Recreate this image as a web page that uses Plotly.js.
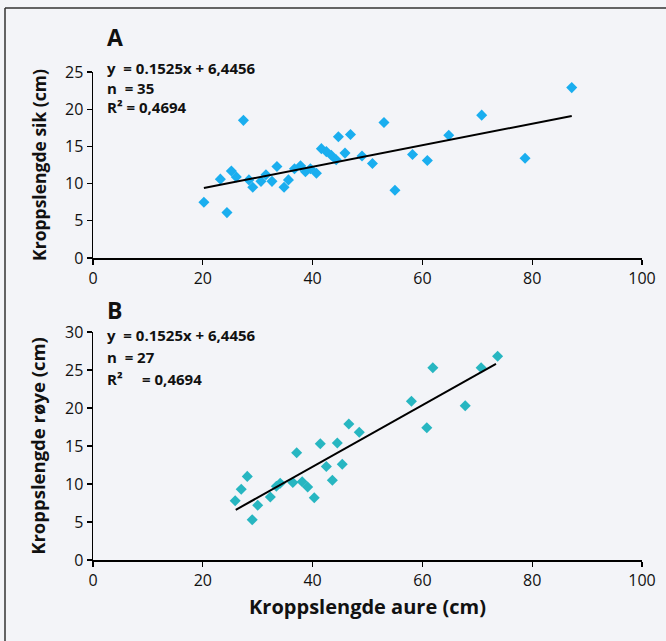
<!DOCTYPE html>
<html>
<head>
<meta charset="utf-8">
<script src="https://cdn.plot.ly/plotly-3.0.1.min.js"></script>
<style>
  html, body { margin: 0; padding: 0; background: #f3f4f8; }
  #chart { width: 666px; height: 641px; }
</style>
</head>
<body>
<div id="chart"></div>
<script>
// Panel A: sik vs aure
const sikX = [20.2, 24.4, 23.2, 25.2, 26.1, 27.4, 28.4, 29.1, 30.6, 31.5, 32.6, 33.5, 34.8, 35.6, 36.7, 37.8, 38.7, 39.6, 40.7, 41.6, 42.5, 43.4, 44.3, 44.7, 45.9, 46.9, 49.0, 50.9, 53.0, 55.0, 58.2, 60.9, 64.8, 70.8, 78.7, 87.2];
const sikY = [7.5, 6.1, 10.6, 11.7, 10.9, 18.5, 10.5, 9.5, 10.3, 11.2, 10.3, 12.3, 9.5, 10.5, 12.0, 12.4, 11.6, 12.0, 11.4, 14.7, 14.3, 13.8, 13.2, 16.3, 14.1, 16.6, 13.7, 12.7, 18.2, 9.1, 13.9, 13.1, 16.5, 19.2, 13.4, 22.9];
const trendAx = [20.2, 87.2];
const trendAy = [9.4, 19.1];

// Panel B: røye vs aure
const royeX = [25.9, 27.0, 28.1, 29.0, 30.0, 32.3, 33.4, 34.1, 36.4, 37.1, 38.1, 39.1, 40.3, 41.4, 42.5, 43.6, 44.5, 45.4, 46.6, 48.5, 58.0, 60.8, 61.9, 67.8, 70.7, 73.7];
const royeY = [7.8, 9.3, 11.0, 5.3, 7.2, 8.3, 9.7, 10.1, 10.2, 14.1, 10.3, 9.6, 8.2, 15.3, 12.3, 10.5, 15.4, 12.6, 17.9, 16.8, 20.9, 17.4, 25.3, 20.3, 25.3, 26.8];
const trendBx = [26.0, 73.4];
const trendBy = [6.6, 25.8];

const xTicks = [0, 20, 40, 60, 80, 100];
const yTicksA = [0, 5, 10, 15, 20, 25];
const yTicksB = [0, 5, 10, 15, 20, 25, 30];

const labelsA = ["y  = 0.1525x + 6,4456", "n  = 35", "R² = 0,4694"];
const labelsB = ["y  = 0.1525x + 6,4456", "n  = 27", "R²     = 0,4694"];

const W = 666, H = 641, ML = 93, MR = 24;
const PW = W - ML - MR;
const px = v => (v - ML) / PW;
const py = v => (H - v) / H;

const FONT = "Open Sans, Noto Sans, sans-serif";
const colA = "#1aaeef";
const colB = "#27b6c1";

const traces = [
  { x: sikX, y: sikY, xaxis: "x", yaxis: "y", type: "scatter", mode: "markers",
    marker: { symbol: "diamond", size: 8.5, color: colA }, hoverinfo: "x+y" },
  { x: trendAx, y: trendAy, xaxis: "x", yaxis: "y", type: "scatter", mode: "lines",
    line: { color: "#000", width: 2 } },
  { x: royeX, y: royeY, xaxis: "x2", yaxis: "y2", type: "scatter", mode: "markers",
    marker: { symbol: "diamond", size: 8.5, color: colB }, hoverinfo: "x+y" },
  { x: trendBx, y: trendBy, xaxis: "x2", yaxis: "y2", type: "scatter", mode: "lines",
    line: { color: "#000", width: 2 } }
];

const axisCommon = {
  showgrid: false, zeroline: false, showline: true, linecolor: "#000", linewidth: 1.5,
  ticks: "outside", ticklen: 5, tickwidth: 1.2, tickcolor: "#000",
  tickfont: { family: FONT, size: 16, color: "#111" }
};

const layout = {
  width: W, height: H,
  margin: { l: ML, r: MR, t: 0, b: 0 },
  paper_bgcolor: "#f3f4f8", plot_bgcolor: "#f3f4f8",
  showlegend: false,
  font: { family: FONT, color: "#111" },
  xaxis: Object.assign({}, axisCommon, {
    range: [0, 100], tickvals: xTicks, anchor: "y", domain: [0, 1]
  }),
  yaxis: Object.assign({}, axisCommon, {
    range: [0, 25], tickvals: yTicksA, anchor: "x", domain: [py(258), py(72)],
    title: { text: "<b>Kroppslengde sik (cm)</b>", font: { family: FONT, size: 17.5, color: "#111" }, standoff: 14 }
  }),
  xaxis2: Object.assign({}, axisCommon, {
    range: [0, 100], tickvals: xTicks, anchor: "y2", domain: [0, 1],
    title: { text: "<b>Kroppslengde aure (cm)</b>", font: { family: FONT, size: 20, color: "#111" }, standoff: 10 }
  }),
  yaxis2: Object.assign({}, axisCommon, {
    range: [0, 30], tickvals: yTicksB, anchor: "x2", domain: [py(560), py(332)],
    title: { text: "<b>Kroppslengde røye (cm)</b>", font: { family: FONT, size: 18.5, color: "#111" }, standoff: 14 }
  }),
  annotations: [
    { text: "<b>A</b>", xref: "paper", yref: "paper", x: px(105), y: py(37),
      xanchor: "left", yanchor: "middle", showarrow: false,
      font: { family: FONT, size: 23, color: "#111" } },
    { text: "<b>B</b>", xref: "paper", yref: "paper", x: px(105), y: py(310),
      xanchor: "left", yanchor: "middle", showarrow: false,
      font: { family: FONT, size: 23, color: "#111" } },
    { text: labelsA.map(t => "<b>" + t + "</b>").join("<br>"), xref: "paper", yref: "paper",
      x: px(105), y: py(88), xanchor: "left", yanchor: "middle", align: "left", showarrow: false,
      font: { family: FONT, size: 15, color: "#111" } }
  ],
  shapes: [
    { type: "line", xref: "paper", yref: "paper", x0: px(5), x1: px(5), y0: py(8), y1: py(641),
      line: { color: "#333", width: 1.5 } },
    { type: "line", xref: "paper", yref: "paper", x0: px(5), x1: px(666), y0: py(8), y1: py(8),
      line: { color: "#333", width: 1.5 } }
  ]
};

const bY = [335, 357, 379];
labelsB.forEach((t, i) => layout.annotations.push({
  text: "<b>" + t + "</b>", xref: "paper", yref: "paper", x: px(105), y: py(bY[i]),
  xanchor: "left", yanchor: "middle", showarrow: false,
  font: { family: FONT, size: 15, color: "#111" }
}));

Plotly.newPlot("chart", traces, layout, { displayModeBar: false, staticPlot: true });
</script>
</body>
</html>
